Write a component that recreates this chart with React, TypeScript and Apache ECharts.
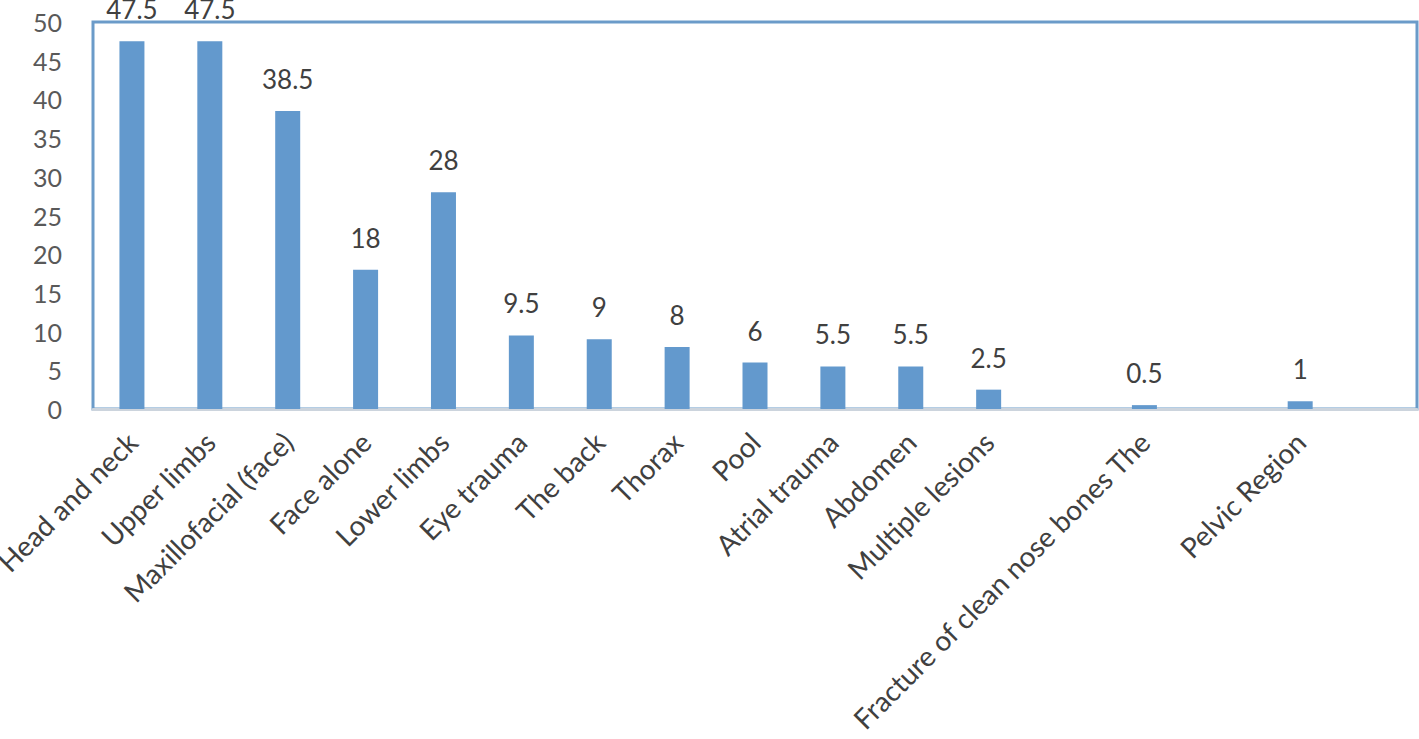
import React, { useEffect, useRef } from "react";
import * as echarts from "echarts";

const categories = [
  "Head and neck",
  "Upper limbs",
  "Maxillofacial (face)",
  "Face alone",
  "Lower limbs",
  "Eye trauma",
  "The back",
  "Thorax",
  "Pool",
  "Atrial trauma",
  "Abdomen",
  "Multiple lesions",
  "",
  "Fracture of clean nose bones The",
  "",
  "Pelvic Region",
  "",
];

const values: (number | null)[] = [
  47.5, 47.5, 38.5, 18, 28, 9.5, 9, 8, 6, 5.5, 5.5, 2.5, null, 0.5, null, 1, null,
];

const yMin = 0;
const yMax = 50;
const yInterval = 5;

const FONT = "Lato, 'Open Sans', sans-serif";

export default function App() {
  const ref = useRef<HTMLDivElement>(null);
  useEffect(() => {
    if (!ref.current) return;
    const chart = echarts.init(ref.current, undefined, { renderer: "svg" });
    chart.setOption({
      animation: false,
      textStyle: { fontFamily: FONT },
      grid: {
        left: 93,
        right: 2,
        top: 22,
        bottom: 330,
        show: true,
        borderColor: "#6b9bc9",
        borderWidth: 3,
        containLabel: false,
        outerBoundsMode: "none",
      },
      xAxis: {
        type: "category",
        data: categories,
        axisLine: { show: true, lineStyle: { color: "#ccd4dd", width: 3 } },
        axisTick: { show: false },
        axisLabel: {
          interval: 0,
          rotate: 45,
          margin: 28,
          fontSize: 28,
          color: "#404040",
          fontFamily: FONT,
        },
      },
      yAxis: {
        type: "value",
        min: yMin,
        max: yMax,
        interval: yInterval,
        axisLine: { show: false },
        axisTick: { show: false },
        splitLine: { show: false },
        axisLabel: {
          fontSize: 25,
          color: "#595959",
          margin: 31,
          fontFamily: FONT,
        },
      },
      series: [
        {
          type: "bar",
          data: values,
          barWidth: 25,
          itemStyle: { color: "#6399cd" },
          label: {
            show: true,
            position: "top",
            distance: 19,
            fontSize: 26,
            color: "#404040",
            fontFamily: FONT,
          },
        },
      ],
    });
    return () => chart.dispose();
  }, []);
  return (
    <div
      ref={ref}
      style={{ position: "absolute", left: 0, top: 0, width: 1419, height: 739 }}
    />
  );
}
